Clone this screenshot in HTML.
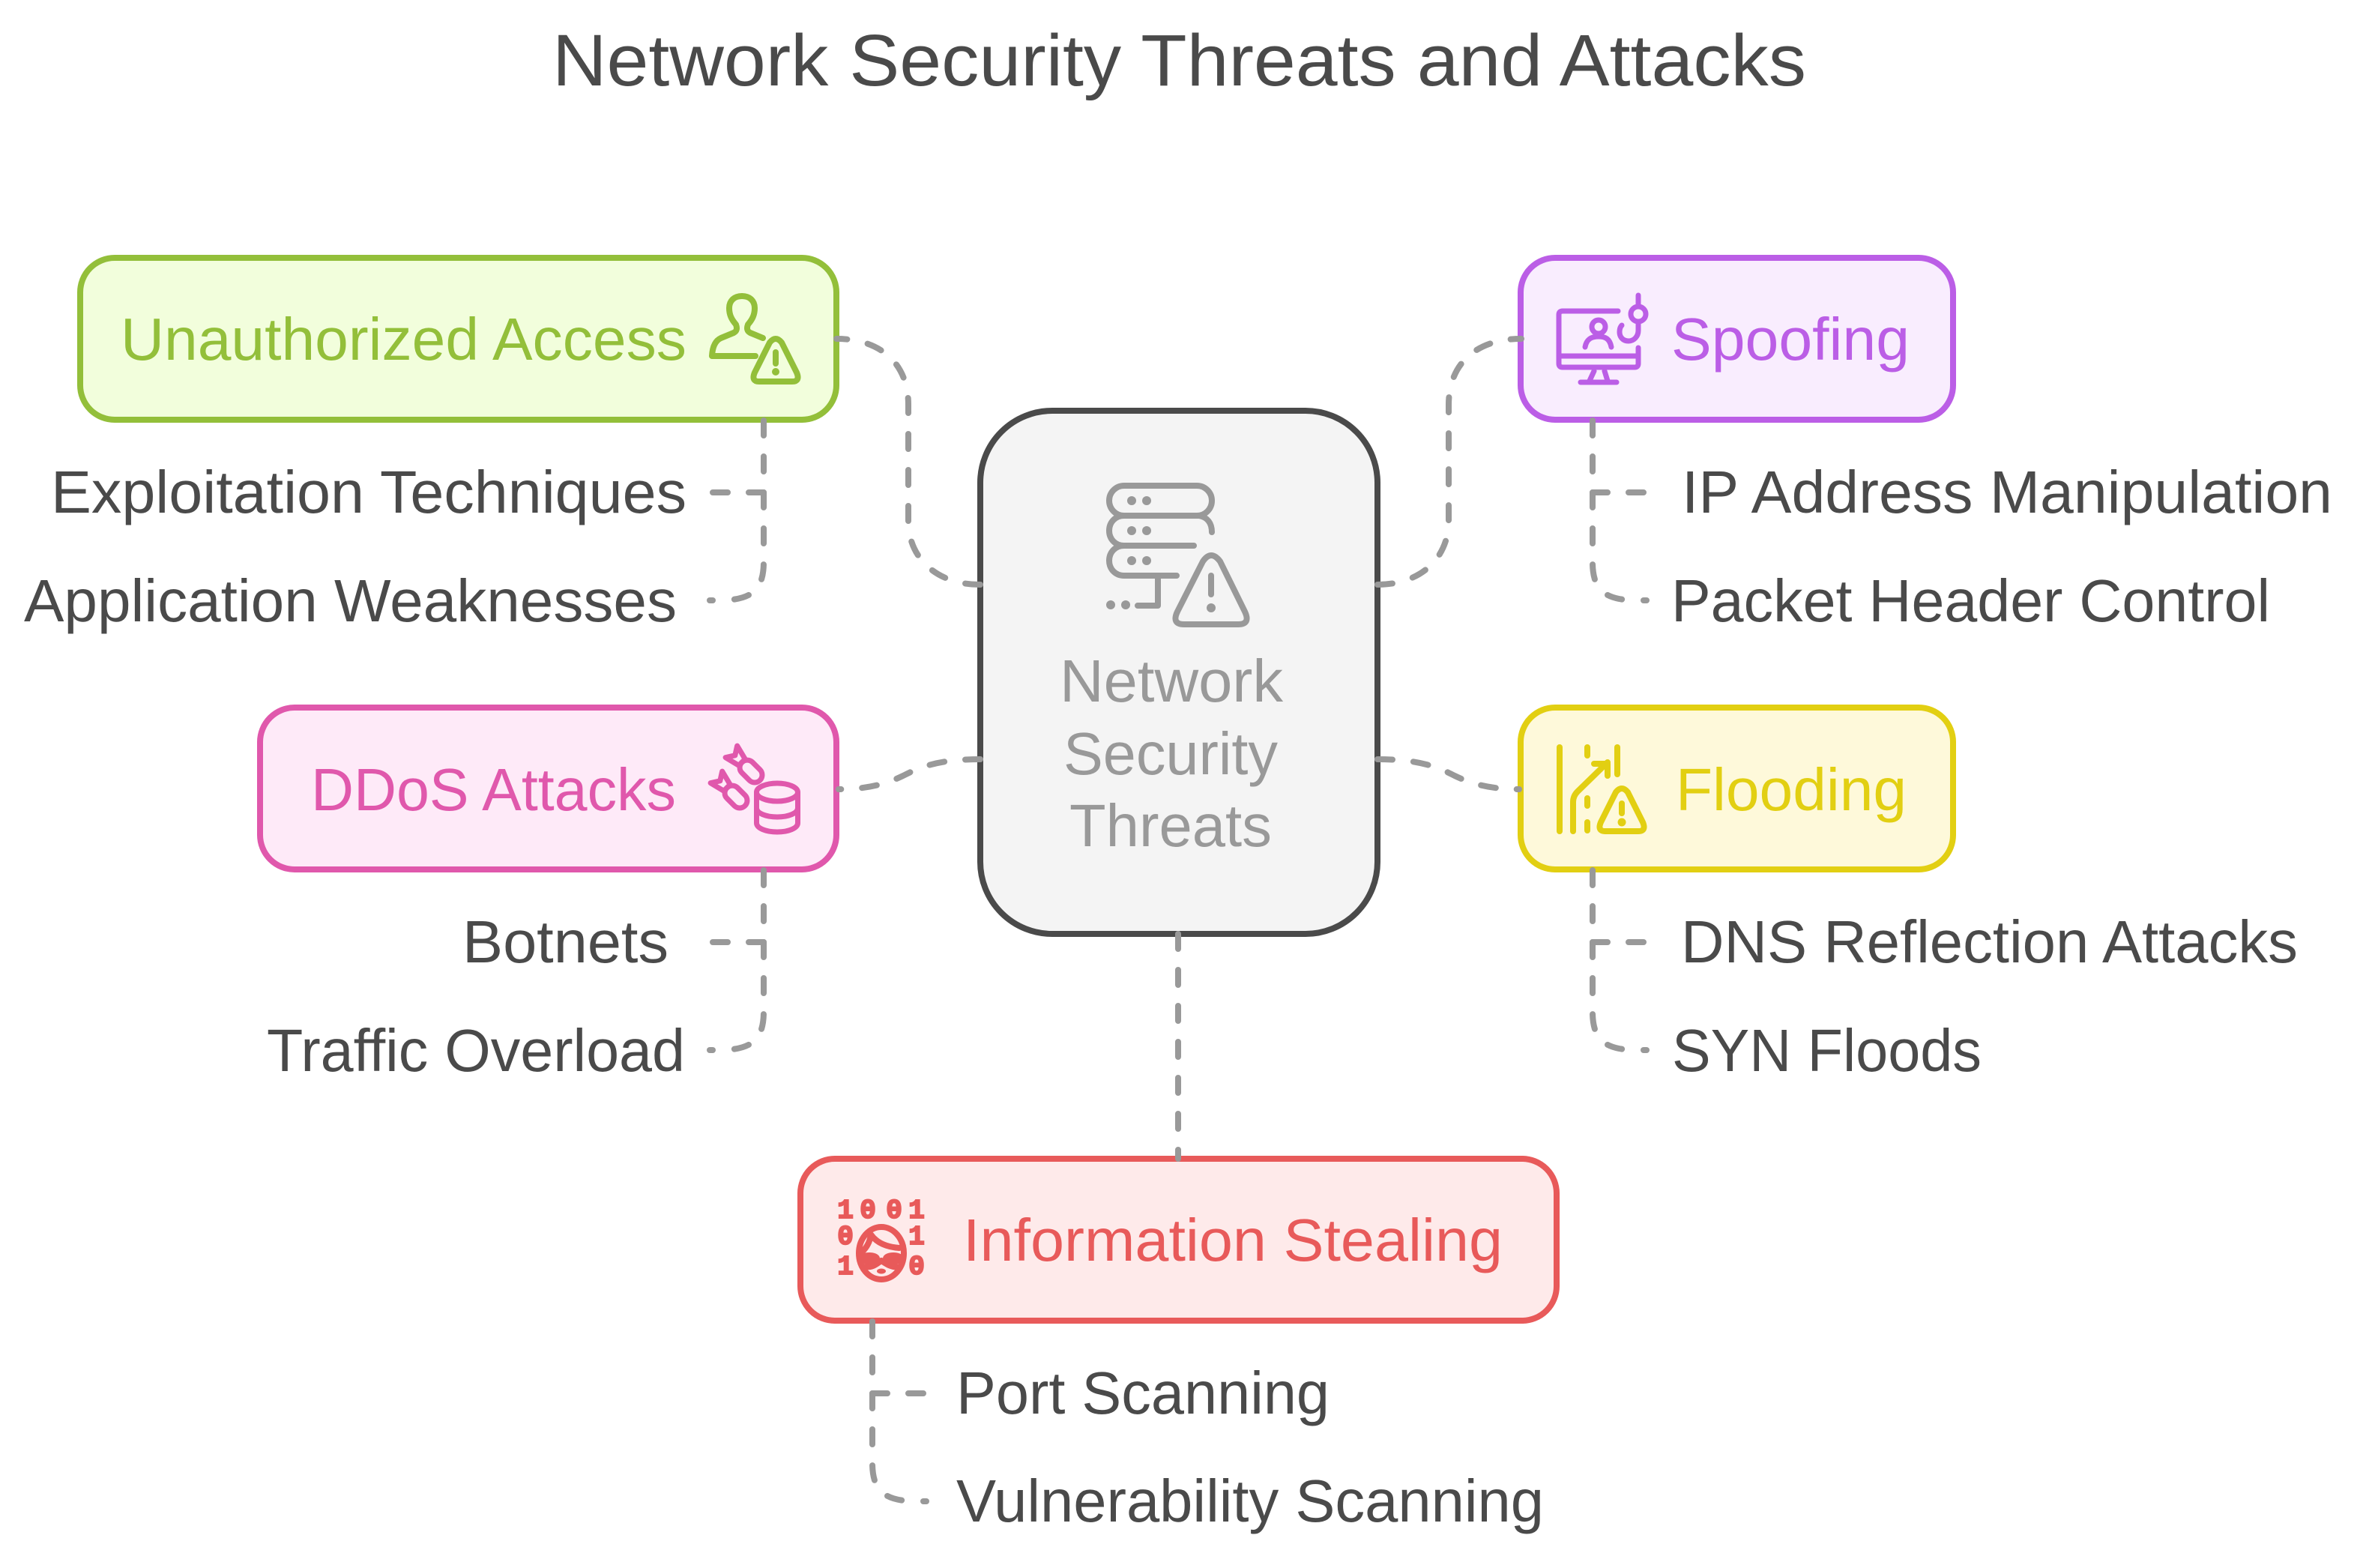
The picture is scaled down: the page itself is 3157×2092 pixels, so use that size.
<!DOCTYPE html>
<html lang="en">
<head>
<meta charset="utf-8">
<title>Network Security Threats and Attacks</title>
<style>
html,body{margin:0;padding:0;background:#fff;width:3157px;height:2092px;overflow:hidden}
svg{display:block}
text{font-family:"Liberation Sans",sans-serif;font-size:80px}
.d{fill:#4a4a4a}
.c{fill:none;stroke:#999;stroke-width:8;stroke-dasharray:20 28;stroke-linecap:round;stroke-linejoin:round}
.t{fill:none;stroke:#999;stroke-width:8;stroke-linecap:round}
.i{fill:none;stroke-width:8;stroke-linecap:round;stroke-linejoin:round}
</style>
</head>
<body>
<svg width="3157" height="2092" viewBox="0 0 3157 2092" xmlns="http://www.w3.org/2000/svg">
<rect width="3157" height="2092" fill="#fff"/>

<text x="737" y="114" class="d" style="font-size:97px" textLength="1673" lengthAdjust="spacingAndGlyphs">Network Security Threats and Attacks</text>

<!-- boxes -->
<rect x="1308" y="548" width="530" height="698" rx="96" fill="#f4f4f4" stroke="#4a4a4a" stroke-width="8"/>
<rect x="107" y="344" width="1009" height="216" rx="46" fill="#f2fedc" stroke="#93bf3a" stroke-width="8"/>
<rect x="2029" y="344" width="577" height="216" rx="46" fill="#f9edfe" stroke="#bb5ee6" stroke-width="8"/>
<rect x="347" y="944" width="769" height="216" rx="46" fill="#feeaf8" stroke="#e058ac" stroke-width="8"/>
<rect x="2029" y="944" width="577" height="216" rx="46" fill="#fef9da" stroke="#e2cf12" stroke-width="8"/>
<rect x="1068" y="1546" width="1009" height="216" rx="46" fill="#feeaea" stroke="#e85a5a" stroke-width="8"/>

<!-- connectors -->
<path class="c" d="M1308 780C1250 780 1212 745 1212 695V540C1212 485 1175 452 1116 452"/>
<path class="c" d="M1838 780C1895 780 1933 745 1933 695V540C1933 485 1970 452 2030 452"/>
<path class="c" d="M1308 1013C1255 1013 1230 1022 1205 1035C1180 1047 1155 1053 1119 1053"/>
<path class="c" d="M1838 1013C1891 1013 1916 1022 1941 1035C1966 1047 1991 1053 2027 1053"/>
<path class="c" d="M1572 1246V1546"/>

<path class="c" d="M1019 561V750C1019 790 1000 801 958 801"/><path class="c" d="M1019 657H949"/><path class="t" d="M947 801H951"/>
<path class="c" d="M1019 1161V1350C1019 1390 1000 1401 958 1401"/><path class="c" d="M1019 1257H949"/><path class="t" d="M947 1401H951"/>
<path class="c" d="M2125 561V750C2125 790 2144 801 2186 801"/><path class="c" d="M2125 657H2195"/><path class="t" d="M2193 801H2197"/>
<path class="c" d="M2125 1161V1350C2125 1390 2144 1401 2186 1401"/><path class="c" d="M2125 1257H2195"/><path class="t" d="M2193 1401H2197"/>
<path class="c" d="M1164 1763V1952C1164 1992 1183 2003 1225 2003"/><path class="c" d="M1164 1859H1234"/><path class="t" d="M1232 2003H1236"/>

<!-- box labels -->
<text x="161" y="480" fill="#93bf3a" textLength="755" lengthAdjust="spacingAndGlyphs">Unauthorized Access</text>
<text x="2230" y="480" fill="#bb5ee6" textLength="318" lengthAdjust="spacingAndGlyphs">Spoofing</text>
<text x="415" y="1081" fill="#e058ac" textLength="487" lengthAdjust="spacingAndGlyphs">DDoS Attacks</text>
<text x="2236" y="1081" fill="#e2cf12" textLength="308" lengthAdjust="spacingAndGlyphs">Flooding</text>
<text x="1285" y="1682" fill="#e85a5a" textLength="720" lengthAdjust="spacingAndGlyphs">Information Stealing</text>

<text x="1414" y="936" fill="#999" textLength="298" lengthAdjust="spacingAndGlyphs">Network</text>
<text x="1419" y="1033" fill="#999" textLength="286" lengthAdjust="spacingAndGlyphs">Security</text>
<text x="1427" y="1129" fill="#999" textLength="270" lengthAdjust="spacingAndGlyphs">Threats</text>

<!-- sub labels -->
<text x="68" y="684" class="d" textLength="848" lengthAdjust="spacingAndGlyphs">Exploitation Techniques</text>
<text x="32" y="829" class="d" textLength="871" lengthAdjust="spacingAndGlyphs">Application Weaknesses</text>
<text x="2244" y="684" class="d" textLength="868" lengthAdjust="spacingAndGlyphs">IP Address Manipulation</text>
<text x="2230" y="829" class="d" textLength="799" lengthAdjust="spacingAndGlyphs">Packet Header Control</text>
<text x="617" y="1284" class="d" textLength="275" lengthAdjust="spacingAndGlyphs">Botnets</text>
<text x="356" y="1429" class="d" textLength="558" lengthAdjust="spacingAndGlyphs">Traffic Overload</text>
<text x="2243" y="1284" class="d" textLength="823" lengthAdjust="spacingAndGlyphs">DNS Reflection Attacks</text>
<text x="2231" y="1429" class="d" textLength="413" lengthAdjust="spacingAndGlyphs">SYN Floods</text>
<text x="1276" y="1886" class="d" textLength="498" lengthAdjust="spacingAndGlyphs">Port Scanning</text>
<text x="1276" y="2030" class="d" textLength="784" lengthAdjust="spacingAndGlyphs">Vulnerability Scanning</text>

<!-- center icon -->
<g class="i" stroke="#999">
<rect x="1480" y="648" width="137" height="40" rx="20"/>
<path d="M1617 710C1617 698 1611 690 1600 688H1500C1488 688 1480 697 1480 708C1480 719 1488 728 1500 728H1593"/>
<path d="M1500 728C1488 728 1480 737 1480 748C1480 759 1488 768 1500 768H1570"/>
<path d="M1545 768V808H1518"/>
<path d="M1605 749Q1616 733 1628 749L1661 816Q1669 833 1652 833H1580Q1563 833 1571 816Z"/>
<path d="M1616 768V793"/>
</g>
<g fill="#999">
<circle cx="1510" cy="668" r="6"/><circle cx="1530" cy="668" r="6"/>
<circle cx="1510" cy="708" r="6"/><circle cx="1530" cy="708" r="6"/>
<circle cx="1510" cy="748" r="6"/><circle cx="1530" cy="748" r="6"/>
<circle cx="1482" cy="807" r="6"/><circle cx="1502" cy="807" r="6"/>
<circle cx="1616" cy="811" r="6"/>
</g>

<!-- unauthorized icon -->
<g class="i" stroke="#93bf3a">
<path d="M1018 451L1001 444Q995 441 998 433C1004 426 1007 420 1007 411C1007 401 1000 395 990 395C980 395 973 401 973 411C973 420 976 426 982 433Q985 441 979 444L962 451Q951 456 950 475H1008"/>
<path d="M1027 457Q1035 447 1043 457L1063 497Q1068 509 1057 509H1013Q1002 509 1007 497Z"/>
<path d="M1035 470V485"/>
</g>
<circle cx="1035" cy="496" r="5" fill="#93bf3a"/>

<!-- spoofing icon -->
<g class="i" stroke="#bb5ee6" style="stroke-width:7">
<path d="M2159 415H2085Q2080 415 2080 420V485Q2080 490 2085 490H2181Q2186 490 2186 485V464"/>
<path d="M2080 475H2186"/>
<circle cx="2133" cy="436" r="9"/>
<path d="M2115 463C2117 452 2124 449 2133 449C2142 449 2148 452 2150 463"/>
<path d="M2186 394V409"/>
<circle cx="2186" cy="419" r="10"/>
<path d="M2186 430V441C2186 449 2180 455 2173 455C2165 455 2161 449 2161 443Q2161 437 2164 434"/>
<path d="M2127 495L2121 508M2141 495L2145 508M2109 510H2157"/>
</g>

<!-- ddos icon -->
<g class="i" stroke="#e058ac" style="stroke-width:7">
<ellipse cx="1037" cy="1057" rx="27.500" ry="12"/>
<path d="M1009.500 1057V1098C1009.500 1105 1022 1110 1037 1110C1052 1110 1064.500 1105 1064.500 1098V1057"/>
<path d="M1009.500 1078C1009.500 1085 1022 1090 1037 1090C1052 1090 1064.500 1085 1064.500 1078"/>
<g transform="translate(990 1017) rotate(45)">
<rect x="0" y="-10" width="34" height="20" rx="10"/>
<path d="M0 -6L-20 -11L-13 0L-20 11L0 6Z"/>
</g>
<g transform="translate(970 1051) rotate(45)">
<rect x="0" y="-10" width="34" height="20" rx="10"/>
<path d="M0 -6L-20 -11L-13 0L-20 11L0 6Z"/>
</g>
</g>

<!-- flooding icon -->
<g class="i" stroke="#e2cf12">
<path d="M2081 997V1109"/>
<path d="M2118 997V1008M2118 1065V1075M2118 1097V1108"/>
<path d="M2158 997V1033"/>
<path d="M2099 1109V1070Q2099 1062 2105 1056L2145 1017"/>
<path d="M2127 1019H2145V1035"/>
<path d="M2156 1057Q2164 1047 2172 1057L2192 1097Q2197 1109 2186 1109H2142Q2131 1109 2136 1097Z"/>
<path d="M2164 1072V1085"/>
</g>
<circle cx="2164" cy="1097" r="5.500" fill="#e2cf12"/>

<!-- information stealing icon -->
<g fill="#e85a5a" stroke="#e85a5a" stroke-width="2" text-anchor="middle">
<text x="1128" y="1625" style="font-family:'Liberation Mono',monospace;font-size:36px;font-weight:bold">1</text>
<text x="1158" y="1625" style="font-family:'Liberation Mono',monospace;font-size:36px;font-weight:bold">0</text>
<text x="1193" y="1625" style="font-family:'Liberation Mono',monospace;font-size:36px;font-weight:bold">0</text>
<text x="1223" y="1625" style="font-family:'Liberation Mono',monospace;font-size:36px;font-weight:bold">1</text>
<text x="1128" y="1660" style="font-family:'Liberation Mono',monospace;font-size:36px;font-weight:bold">0</text>
<text x="1223" y="1660" style="font-family:'Liberation Mono',monospace;font-size:36px;font-weight:bold">1</text>
<text x="1128" y="1700" style="font-family:'Liberation Mono',monospace;font-size:36px;font-weight:bold">1</text>
<text x="1223" y="1700" style="font-family:'Liberation Mono',monospace;font-size:36px;font-weight:bold">0</text>
</g>
<g class="i" stroke="#e85a5a">
<ellipse cx="1176" cy="1672" rx="30" ry="35"/>
<path d="M1200 1665Q1173 1663 1162 1647Q1160 1663 1147 1673"/>
<path d="M1152 1690C1165 1692 1170 1686 1176 1682C1182 1686 1190 1692 1200 1690"/>
<ellipse cx="1160" cy="1679" rx="10" ry="4" fill="#feeaea"/>
<ellipse cx="1192" cy="1679" rx="10" ry="4" fill="#feeaea"/>
</g>
<ellipse cx="1176" cy="1696" rx="6" ry="3.500" fill="#e85a5a"/>
</svg>
</body>
</html>
